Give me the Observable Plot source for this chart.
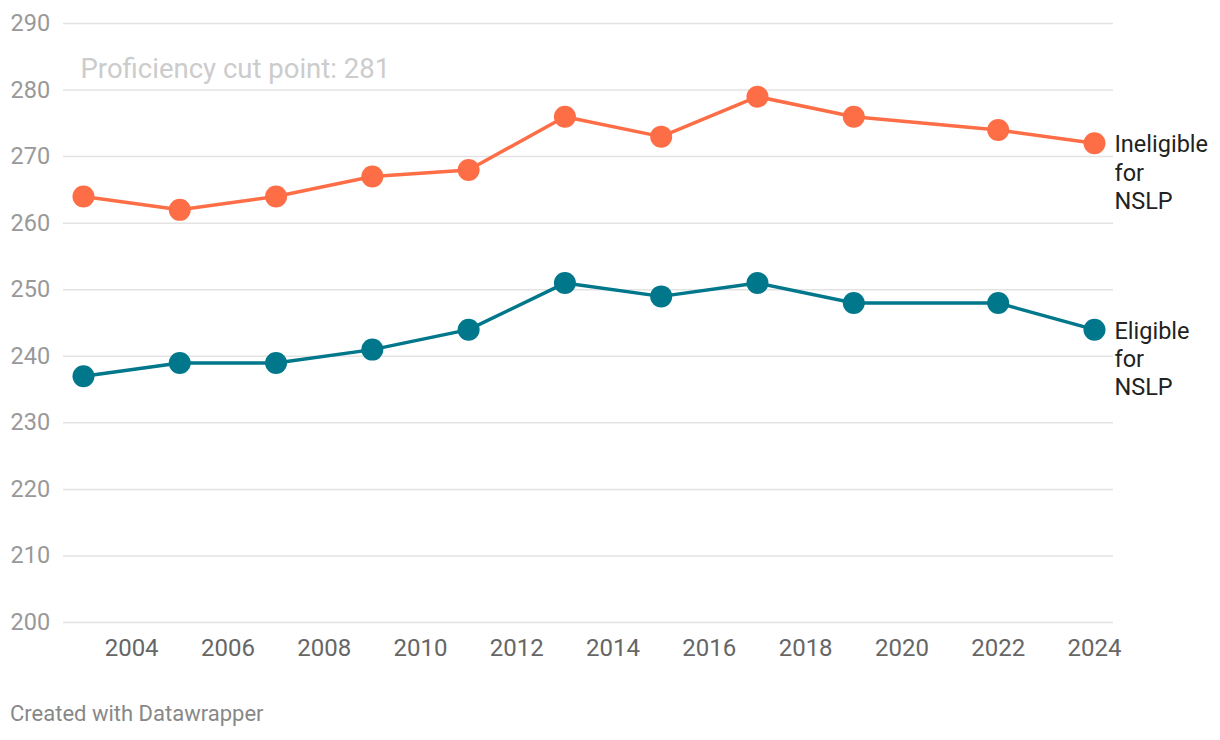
<!DOCTYPE html>
<html>
<head>
<meta charset="utf-8">
<script src="https://cdn.jsdelivr.net/npm/d3@7"></script>
<script src="https://cdn.jsdelivr.net/npm/@observablehq/plot@0.6"></script>
<style>
  html, body { margin: 0; padding: 0; background: #fff; font-family: Roboto, sans-serif; }
  #chart svg { display: block; }
  #footer { position: absolute; left: 10px; top: 701px; font: 22px Roboto, sans-serif; color: #888; }
</style>
</head>
<body>
<div id="chart"></div>
<div id="footer">Created with Datawrapper</div>
<script>
const years = [2003, 2005, 2007, 2009, 2011, 2013, 2015, 2017, 2019, 2022, 2024];
const ineligible = [264, 262, 264, 267, 268, 276, 273, 279, 276, 274, 272];
const eligible = [237, 239, 239, 241, 244, 251, 249, 251, 248, 248, 244];
const yTicks = [200, 210, 220, 230, 240, 250, 260, 270, 280, 290];
const xTicks = [2004, 2006, 2008, 2010, 2012, 2014, 2016, 2018, 2020, 2022, 2024];
const seriesNames = ["Ineligible\nfor\nNSLP", "Eligible\nfor\nNSLP"];
const colors = ["#fd6e47", "#00778b"];
const cutPoint = 281;
const cutLabel = "Proficiency cut point: 281";

const rows = [];
years.forEach((y, i) => {
  rows.push({year: y, value: ineligible[i], s: 0});
  rows.push({year: y, value: eligible[i], s: 1});
});
const last = [
  {year: years[years.length - 1], value: ineligible[ineligible.length - 1], s: 0, label: seriesNames[0]},
  {year: years[years.length - 1], value: eligible[eligible.length - 1], s: 1, label: seriesNames[1]}
];

const chart = Plot.plot({
  width: 1220,
  height: 690,
  marginLeft: 63,
  marginRight: 107,
  marginTop: 23,
  marginBottom: 68,
  style: {fontFamily: "Roboto, sans-serif", background: "#fff"},
  x: {domain: [2002.585, 2024.395], axis: null},
  y: {domain: [200, 290], axis: null},
  color: {domain: [0, 1], range: colors},
  marks: [
    Plot.ruleY(yTicks, {stroke: "#e3e3e3", strokeWidth: 1.5}),
    Plot.text(yTicks, {y: d => d, text: d => String(d), frameAnchor: "left", dx: -53, textAnchor: "start", fill: "#999", fontSize: 23.5}),
    Plot.text(xTicks, {x: d => d, text: d => String(d), frameAnchor: "bottom", dy: 26, lineAnchor: "middle", fill: "#666", fontSize: 24}),
    Plot.text([cutPoint], {x: years[0], y: d => d, text: () => cutLabel, textAnchor: "start", lineAnchor: "bottom", dx: -3, dy: -5, fill: "#ccc", fontSize: 27.5}),
    Plot.line(rows, {x: "year", y: "value", z: "s", stroke: "s", strokeWidth: 3.5}),
    Plot.dot(rows, {x: "year", y: "value", fill: "s", r: 11}),
    Plot.text(last, {x: "year", y: "value", text: "label", textAnchor: "start", lineAnchor: "top", dx: 20, dy: -11, lineHeight: 1.2, fill: "#222", fontSize: 23.5})
  ]
});
document.getElementById("chart").appendChild(chart);
</script>
</body>
</html>
